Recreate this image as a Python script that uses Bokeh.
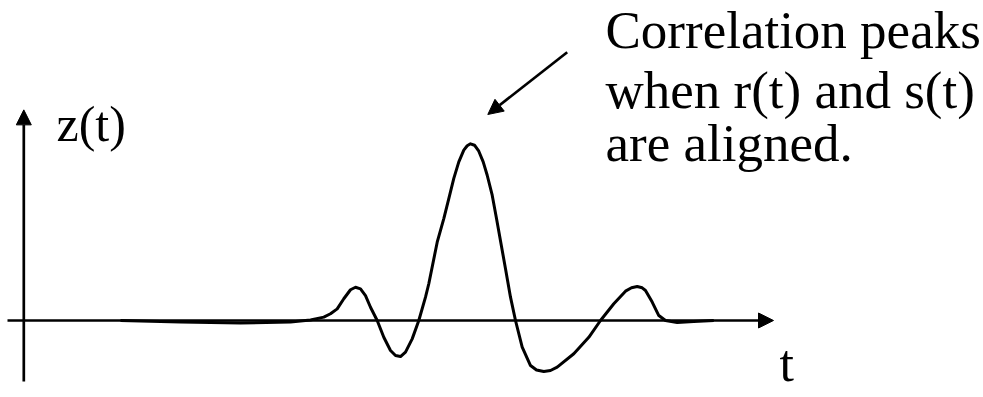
from bokeh.plotting import figure
from bokeh.models import Range1d, Arrow, NormalHead
from bokeh.core.properties import value
from bokeh.embed import file_html
from bokeh.resources import INLINE

# correlation output z(t) (peak normalised to 1)
t_vals = [0.967, 1.567, 2.167, 2.667, 2.867, 3.000, 3.067, 3.134, 3.200, 3.267,
          3.317, 3.367, 3.417, 3.467, 3.534, 3.600, 3.667, 3.717, 3.767, 3.817,
          3.884, 3.950, 4.017, 4.050, 4.134, 4.200, 4.250, 4.300, 4.350, 4.400,
          4.434, 4.467, 4.507, 4.550, 4.594, 4.634, 4.684, 4.727, 4.817, 4.867,
          4.917, 4.984, 5.067, 5.127, 5.200, 5.267, 5.334, 5.500, 5.650, 5.767,
          5.900, 6.017, 6.077, 6.134, 6.184, 6.217, 6.284, 6.350, 6.417, 6.534,
          6.700, 6.900]
z_vals = [0.000, -0.008, -0.014, -0.008, 0.003, 0.019, 0.038, 0.066, 0.123, 0.174,
          0.188, 0.179, 0.141, 0.075, 0.000, -0.095, -0.170, -0.198, -0.204, -0.179,
          -0.104, 0.000, 0.132, 0.208, 0.443, 0.577, 0.690, 0.804, 0.898, 0.964,
          0.989, 1.000, 0.992, 0.958, 0.898, 0.822, 0.709, 0.577, 0.293, 0.132,
          0.000, -0.151, -0.255, -0.280, -0.289, -0.283, -0.264, -0.188, -0.095, 0.000,
          0.095, 0.166, 0.185, 0.192, 0.185, 0.170, 0.104, 0.028, 0.000, -0.011,
          -0.006, 0.000]

# axes extents (data units)
x_axis_span = [-0.163, 7.497]
y_axis_span = [-0.345, 1.192]

# annotation texts
y_label = "z(t)"
x_label = "t"
note_lines = ["Correlation peaks", "when r(t) and s(t)", "are aligned."]

# pointer arrow (start -> tip) in data units
pointer_start = (5.434, 1.518)
pointer_tip = (4.640, 1.166)

FONT = value("Liberation Serif")

p = figure(width=983, height=397, output_backend="svg", toolbar_location=None,
           x_range=Range1d(-0.233, 9.597), y_range=Range1d(-0.4358, 1.811),
           x_axis_type=None, y_axis_type=None, min_border=0,
           background_fill_color="white", border_fill_color="white")
p.grid.visible = False
p.outline_line_color = None

# horizontal axis with arrow
p.add_layout(Arrow(end=NormalHead(size=15, fill_color="black", line_color="black"),
                   x_start=x_axis_span[0], y_start=0, x_end=x_axis_span[1], y_end=0,
                   line_width=2.7, line_color="black"))
# vertical axis with arrow
p.add_layout(Arrow(end=NormalHead(size=15, fill_color="black", line_color="black"),
                   x_start=0, y_start=y_axis_span[0], x_end=0, y_end=y_axis_span[1],
                   line_width=2.7, line_color="black"))

# curve
p.line(t_vals, z_vals, line_width=3, line_color="black", line_join="round")

# pointer arrow
p.add_layout(Arrow(end=NormalHead(size=15, fill_color="black", line_color="black"),
                   x_start=pointer_start[0], y_start=pointer_start[1],
                   x_end=pointer_tip[0], y_end=pointer_tip[1],
                   line_width=2.7, line_color="black"))

# labels
p.text(x=[0.327], y=[1.113], text=[y_label], text_font=FONT, text_font_size="50px",
       text_baseline="alphabetic", text_align="left", text_color="black")
p.text(x=[7.557], y=[-0.2434], text=[x_label], text_font=FONT, text_font_size="52px",
       text_baseline="alphabetic", text_align="left", text_color="black")
p.text(x=[5.817, 5.817, 5.817], y=[1.643, 1.3073, 1.0073], text=note_lines,
       text_font=FONT, text_font_size="53px",
       text_baseline="alphabetic", text_align="left", text_color="black")

open("out.html", "w").write(file_html(p, INLINE))
